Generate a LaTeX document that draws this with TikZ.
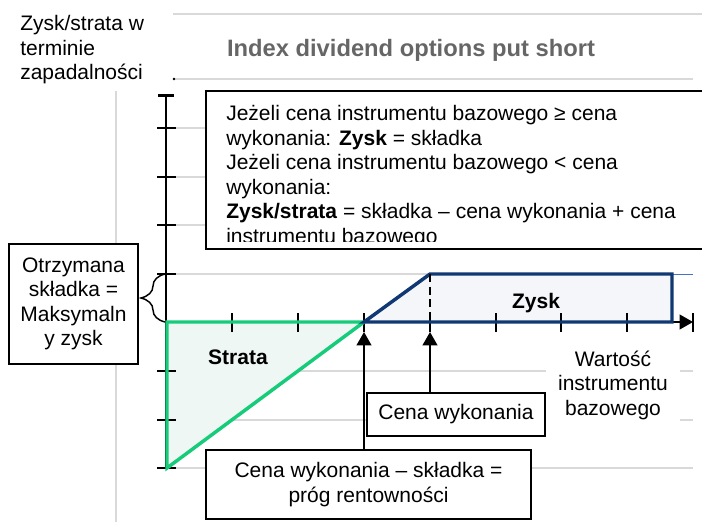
\documentclass[tikz,border=0pt]{standalone}
\usepackage{fontspec}
\setmainfont{Liberation Sans}
\usetikzlibrary{arrows.meta,decorations.pathreplacing}
\definecolor{gridgray}{RGB}{217,217,217}
\definecolor{titlegray}{RGB}{102,102,102}
\definecolor{lossgreen}{RGB}{22,204,122}
\definecolor{lossfill}{RGB}{238,247,243}
\definecolor{gainblue}{RGB}{16,56,114}
\definecolor{gainfill}{RGB}{244,246,250}
\definecolor{thinblue}{RGB}{68,114,196}

\begin{document}
\begin{tikzpicture}[x=0.75pt,y=-0.75pt,
	font=\fontsize{15.75}{18.4}\selectfont,
	box/.style={draw,line width=1.2pt,fill=white,align=center,inner sep=0pt},
	grid/.style={gridgray,line width=1.5pt},
	axis/.style={line width=1.5pt},
	pointer/.style={line width=1.5pt,-{Triangle[length=10pt,width=11pt]},shorten >=7.5pt}]
		\useasboundingbox (0,0) rectangle (702,522);
		%title
		\draw[grid] (173,14) -- (702,14);
		\draw[grid] (173,79) -- (693,79);
		\fill (174,79) circle (1pt);
		\node[font=\fontsize{17.8}{20}\selectfont\bfseries,text=titlegray] (title) at (411,50) {Index dividend options put short};
		\node[anchor=west,align=left,inner sep=0pt] (ylabel) at (20,50) {Zysk/strata w\\terminie\\zapadalności};
		%grid
		\draw[grid] (116,91) -- (116,522);
		\draw[grid] (176,128) -- (693,128);
		\draw[grid] (176,177) -- (693,177);
		\draw[grid] (176,225) -- (693,225);
		\draw[grid] (176,274) -- (672,274);
		\draw[grid] (176,371) -- (693,371);
		\draw[grid] (176,420) -- (693,420);
		\draw[grid] (176,468) -- (693,468);
		\draw[thinblue,line width=0.75pt] (672,274) -- (693,274);
		%points
		\coordinate (O) at (167,322);
		\coordinate (B) at (364,322);
		\coordinate (K) at (430,322);
		\coordinate (Kt) at (430,274);
		\coordinate (Zr) at (672,274);
		\coordinate (Zrb) at (672,322);
		\coordinate (Gb) at (167,468);
		\coordinate (ytop) at (166,94);
		\coordinate (ybot) at (166,468);
		\coordinate (xend) at (693,322);
		%areas
		\fill[lossfill] (O) -- (B) -- (Gb) -- cycle;
		\fill[gainfill] (B) -- (Kt) -- (Zr) -- (Zrb) -- cycle;
		%axes
		\draw[axis,{Bar[width=12pt,line width=2.2pt]}-] (ytop) -- (ybot);
		\draw[axis,-{Triangle[length=10pt,width=11pt]}] (O) -- (xend);
		%%% ticks
		\draw[axis] (157,128) -- (176,128);
		\draw[axis] (157,177) -- (176,177);
		\draw[axis] (157,225) -- (176,225);
		\draw[axis] (157,274) -- (176,274);
		\draw[axis] (157,371) -- (176,371);
		\draw[axis] (157,420) -- (176,420);
		\draw[axis] (157,468) -- (176,468);
		\draw[axis] (232,313) -- (232,332);
		\draw[axis] (298,313) -- (298,332);
		\draw[axis] (364,313) -- (364,332);
		\draw[axis] (430,313) -- (430,332);
		\draw[axis] (496,313) -- (496,332);
		\draw[axis] (561,313) -- (561,332);
		\draw[axis] (627,313) -- (627,332);
		\draw[axis] (693,313) -- (693,332);
		%%% payoff
		\draw[lossgreen,line width=2.6pt,line join=miter] (O) -- (B) -- (Gb) -- cycle;
		\draw[gainblue,line width=2.6pt,line join=miter] (B) -- (Kt) -- (Zr) -- (Zrb) -- cycle;
		\draw[line width=1.6pt,dash pattern=on 6pt off 3.5pt] (Kt) -- (K);
		\node[font=\fontsize{15.75}{18.4}\selectfont\bfseries] (strata) at (238,357) {Strata};
		\node[font=\fontsize{15.75}{18.4}\selectfont\bfseries] (zysk) at (536,303) {Zysk};
		%labels
		\node[fill=white,align=center,minimum width=101pt,inner sep=3pt] (xlabel) at (613,385) {Wartość\\instrumentu\\bazowego};
		\node[box,minimum width=96.75pt,minimum height=90pt] (premium) at (73.5,304) {Otrzymana\\składka =\\Maksymaln\\y zysk};
		\draw[line width=1.1pt,decorate,decoration={brace,amplitude=18pt}] (165,322) -- (165,274);
		\node[box,minimum width=133.5pt,minimum height=32pt] (strike) at (456,414.5) {Cena wykonania};
		\node[box,minimum width=243.75pt,minimum height=51.75pt] (breakeven) at (368.5,484.5) {Cena wykonania – składka =\\próg rentowności};
		\draw[pointer] (breakeven.north -| B) -- (B);
		\draw[pointer] (strike.north -| K) -- (K);
		%conditions
		\node[box,anchor=north west,minimum width=375pt,minimum height=118.5pt] (cond) at (205,90) {};
		\begin{scope}
			\clip (205,90) rectangle (702,241);
			\node[anchor=north west,align=left,inner sep=0pt] (condtext) at (226,105) {Jeżeli cena instrumentu bazowego ≥ cena\\wykonania: \textbf{Zysk} = składka\\Jeżeli cena instrumentu bazowego < cena\\wykonania:\\\textbf{Zysk/strata} = składka – cena wykonania + cena\\instrumentu bazowego};
		\end{scope}
		\draw[line width=1.2pt] (cond.south west) -- (cond.south east);
	\end{tikzpicture}
\end{document}
